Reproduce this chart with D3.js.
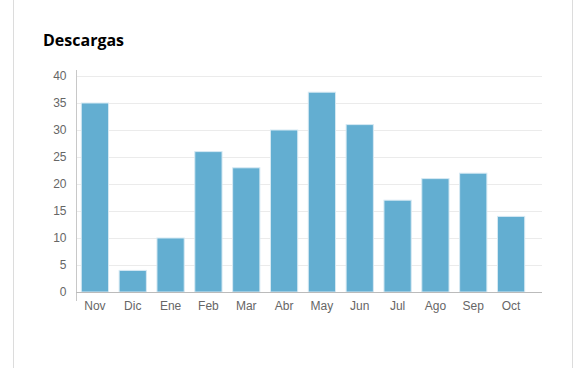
<!DOCTYPE html>
<html><head><meta charset="utf-8">
<script src="https://cdn.jsdelivr.net/npm/d3@7/dist/d3.min.js"></script>
<style>
html,body{margin:0;padding:0;background:#fff;}
svg{display:block;}
</style></head>
<body>
<script>
const categories = ["Nov","Dic","Ene","Feb","Mar","Abr","May","Jun","Jul","Ago","Sep","Oct"];
const values = [35,4,10,26,23,30,37,31,17,21,22,14];
const yTicks = [0,5,10,15,20,25,30,35,40];
const title = "Descargas";

const W = 573, H = 368;
const svg = d3.select("body").append("svg").attr("width", W).attr("height", H);

// panel borders
svg.append("line").attr("x1",13.5).attr("x2",13.5).attr("y1",0).attr("y2",H).attr("stroke","#dcdcdc");
svg.append("line").attr("x1",572.5).attr("x2",572.5).attr("y1",0).attr("y2",H).attr("stroke","#dcdcdc");

svg.append("text").attr("x",43).attr("y",46).text(title)
  .attr("font-family","'Open Sans','Noto Sans',sans-serif").attr("font-weight","bold")
  .attr("font-size",16).attr("fill","#000");

const x = d3.scaleBand().domain(categories).range([76,530]).paddingInner(0.28).paddingOuter(0.14);
const y = d3.scaleLinear().domain([0,40]).range([292,76]);

const font = "'Liberation Sans',Arial,sans-serif";

// gridlines
const grid = svg.append("g");
grid.selectAll("line").data(yTicks.filter(d=>d>0)).join("line")
  .attr("x1",77).attr("x2",542)
  .attr("y1",d=>Math.round(y(d))+0.5).attr("y2",d=>Math.round(y(d))+0.5)
  .attr("stroke","#ebebeb");

// y axis
const yAxis = svg.append("g").attr("transform","translate(76.5,0)")
  .call(d3.axisLeft(y).tickValues(yTicks).tickSize(0).tickPadding(10));
yAxis.select(".domain").remove();
yAxis.selectAll("text").attr("font-family",font).attr("font-size",12).attr("fill","#666");
svg.append("line").attr("x1",76.5).attr("x2",76.5).attr("y1",70).attr("y2",301).attr("stroke","#c8c8c8");

// bars
svg.append("g").selectAll("rect").data(values).join("rect")
  .attr("x",(d,i)=>x(categories[i]))
  .attr("width",x.bandwidth())
  .attr("y",d=>y(d))
  .attr("height",d=>y(0)-y(d))
  .attr("fill","#63aed1")
  .attr("stroke","#d6e9f3").attr("stroke-width",1);

// x axis
const xAxis = svg.append("g").attr("transform","translate(0,292.5)")
  .call(d3.axisBottom(x).tickSize(0).tickPadding(9));
xAxis.select(".domain").remove();
xAxis.selectAll("text").attr("font-family",font).attr("font-size",12).attr("fill","#666");
svg.append("line").attr("x1",76).attr("x2",542).attr("y1",292.5).attr("y2",292.5).attr("stroke","#bbbbbb");
</script>
</body></html>
